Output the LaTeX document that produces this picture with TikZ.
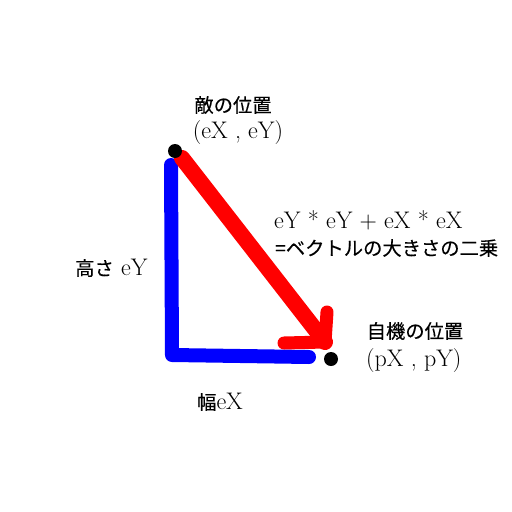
\documentclass[tikz,border=0pt]{standalone}
\usepackage{fontspec}
\newfontfamily\jp[FakeBold=0.3]{Noto Sans CJK JP}
\newcommand\jpsize{\jp\fontsize{19.3}{23}\selectfont}
\begin{document}
\begin{tikzpicture}[x=1pt,y=-1pt,
  dot/.style={circle,fill=black,minimum size=14pt,inner sep=0pt},
  lbl/.style={inner sep=0pt,font=\fontsize{24}{28}\selectfont},
  bluepath/.style={draw=blue,line width=14pt,line cap=round,line join=round},
  redpath/.style={draw=red,line width=16pt,line cap=round,line join=round},
  redhead/.style={draw=red,line width=13pt,line cap=round,line join=round}]
\useasboundingbox (0,0) rectangle (512,512);
% blue legs
\coordinate (btop) at (171,165);
\coordinate (bcorner) at (172,355);
\coordinate (bright) at (309,357);
\draw[bluepath] (btop) -- (bcorner) -- (bright);
% red vector
\coordinate (rstart) at (182,158);
\coordinate (rtip) at (325,342);
\coordinate (hl) at (284,343);
\coordinate (hu) at (327,312);
\draw[redpath] (rstart) -- (rtip);
\draw[redhead] (hl) -- (rtip) -- (hu);
% dots
\node[dot] (enemy) at (175,151) {};
\node[dot] (player) at (331,359) {};
% labels
\node[lbl] (et) at (233,105) {\jpsize 敵の位置};
\node[lbl] (ep) at (238,133) {(eX , eY)};
\node[lbl,anchor=west] (eq1) at (274,220) {eY * eY + eX * eX};
\node[lbl,anchor=west] (eq2) at (275,248) {\jpsize =ベクトルの大きさの二乗};
\node[lbl,anchor=west] (h) at (75,268) {{\jpsize 高さ} eY};
\node[lbl] (pt) at (415,331) {\jpsize 自機の位置};
\node[lbl,anchor=west] (pp) at (366,361) {(pX , pY)};
\node[lbl,anchor=west] (w) at (197,402) {{\jpsize 幅}eX};
\end{tikzpicture}
\end{document}
